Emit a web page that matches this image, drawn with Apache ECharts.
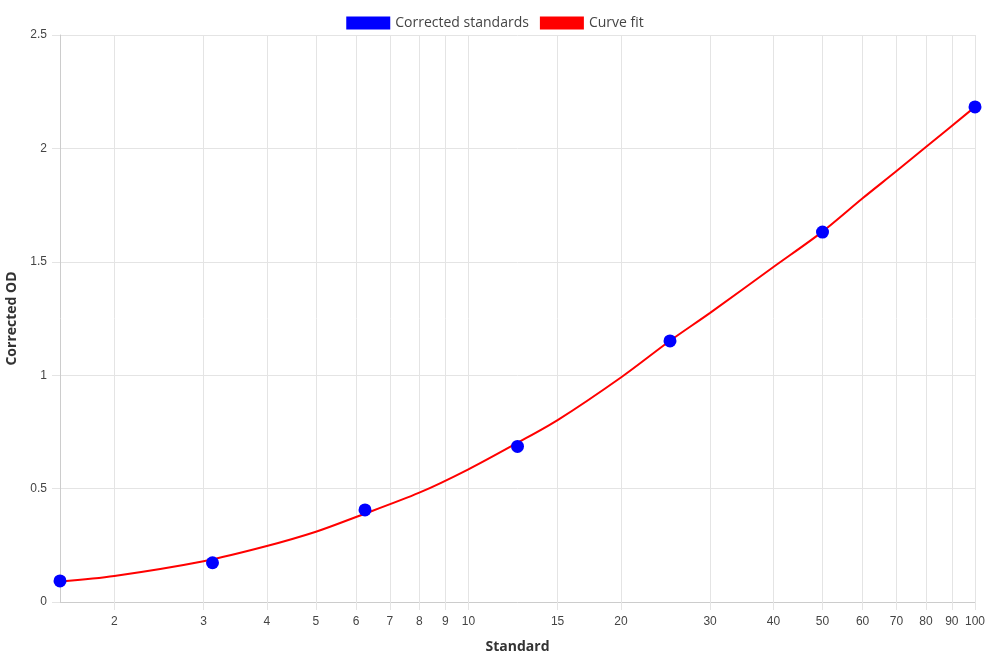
<!DOCTYPE html>
<html>
<head>
<meta charset="utf-8">
<script src="https://cdn.jsdelivr.net/npm/echarts@6/dist/echarts.min.js"></script>
<style>
html,body{margin:0;padding:0;background:#fff;}
#chart{width:990px;height:660px;}
</style>
</head>
<body>
<div id="chart"></div>
<script>
// Standards (x) and corrected OD (y)
const standardX = [1.5625, 3.125, 6.25, 12.5, 25, 50, 100];
const correctedOD = [0.093, 0.173, 0.406, 0.686, 1.151, 1.631, 2.183];

// Curve fit
const curveX = [1.5625, 2, 3, 4, 5, 6, 8, 10, 12.5, 15, 20, 25, 30, 40, 50, 60, 70, 80, 100];
const curveY = [0.090, 0.115, 0.180, 0.247, 0.310, 0.375, 0.482, 0.585, 0.702, 0.802, 0.990, 1.152, 1.275, 1.477, 1.633, 1.780, 1.900, 2.006, 2.183];

// X tick labels (log scale)
const xTicks = [2, 3, 4, 5, 6, 7, 8, 9, 10, 15, 20, 30, 40, 50, 60, 70, 80, 90, 100];
const xMin = 1.5625, xMax = 100;

const lg = v => Math.log10(v);
const tickPos = xTicks.map(lg);

const chart = echarts.init(document.getElementById('chart'), null, {renderer: 'canvas'});
const gridColor = '#e4e4e4';
const labelFont = '"Liberation Sans", Arial, sans-serif';
const titleFont = '"Open Sans", sans-serif';

chart.setOption({
  animation: false,
  backgroundColor: '#fff',
  legend: {
    top: 11,
    left: 'center',
    itemWidth: 44,
    itemHeight: 13,
    itemGap: 11,
    textStyle: {fontFamily: titleFont, fontSize: 14, color: '#444'},
    data: [
      {name: 'Corrected standards', icon: 'rect', itemStyle: {color: '#0000ff'}},
      {name: 'Curve fit', icon: 'rect', itemStyle: {color: '#ff0000'}}
    ]
  },
  grid: {left: 60, right: 15, top: 35, bottom: 58, containLabel: false, outerBoundsMode: 'none'},
  xAxis: {
    type: 'value',
    min: lg(xMin),
    max: lg(xMax),
    name: 'Standard',
    nameLocation: 'middle',
    nameGap: 38,
    nameTextStyle: {fontFamily: titleFont, fontSize: 14, fontWeight: 'bold', color: '#333'},
    axisLine: {show: true, lineStyle: {color: '#cccccc', width: 1}},
    axisTick: {show: true, length: 8, lineStyle: {color: gridColor}, customValues: tickPos},
    axisLabel: {
      customValues: tickPos,
      margin: 14,
      fontFamily: labelFont, fontSize: 12, color: '#444',
      formatter: v => String(Math.round(Math.pow(10, v)))
    },
    splitLine: {show: true, lineStyle: {color: gridColor, width: 1}}
  },
  yAxis: {
    type: 'value',
    min: 0,
    max: 2.5,
    interval: 0.5,
    name: 'Corrected OD',
    nameLocation: 'middle',
    nameGap: 39,
    nameTextStyle: {fontFamily: titleFont, fontSize: 14, fontWeight: 'bold', color: '#333'},
    axisLine: {show: true, lineStyle: {color: '#cccccc', width: 1}},
    axisTick: {show: true, length: 8, lineStyle: {color: gridColor}},
    axisLabel: {margin: 13, fontFamily: labelFont, fontSize: 12, color: '#444'},
    splitLine: {show: true, lineStyle: {color: gridColor, width: 1}}
  },
  series: [
    {
      name: 'Curve fit',
      type: 'line',
      data: curveX.map((x, i) => [lg(x), curveY[i]]),
      smooth: 0.3,
      symbol: 'none',
      itemStyle: {color: '#ff0000'},
      lineStyle: {color: '#ff0000', width: 2},
      z: 2
    },
    {
      name: 'Corrected standards',
      type: 'scatter',
      data: standardX.map((x, i) => [lg(x), correctedOD[i]]),
      symbolSize: 13,
      itemStyle: {color: '#0000ff', opacity: 1},
      z: 3
    }
  ]
});
</script>
</body>
</html>
